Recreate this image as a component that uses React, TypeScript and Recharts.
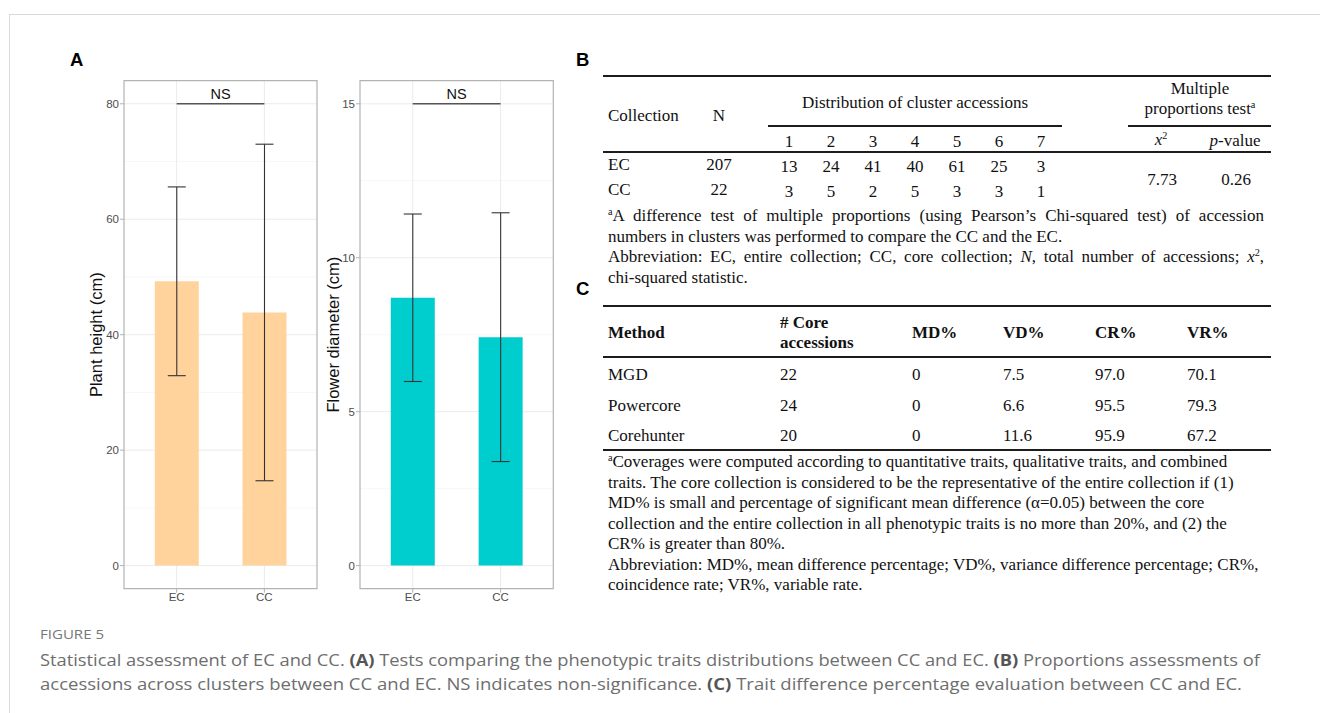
import React from 'react';
import { BarChart, Bar, XAxis, YAxis, ErrorBar, ReferenceLine, ReferenceArea, CartesianGrid } from 'recharts';

// ---- Panel A: trait means (bars) with ± SD error bars ----
const collections = ['EC', 'CC'];
const plantHeightMean = [49.25, 43.85];
const plantHeightSd = [16.35, 29.15];
const flowerDiameterMean = [8.7, 7.42];
const flowerDiameterSd = [2.72, 4.04];

const plantTicks = [0, 20, 40, 60, 80];
const plantMinorTicks = [10, 30, 50, 70];
const flowerTicks = [0, 5, 10, 15];
const flowerMinorTicks = [2.5, 7.5, 12.5];

const plantNsLevel = 80;
const flowerNsLevel = 15;
const significanceLabel = 'NS';

// ---- Panel B: cluster distribution table ----
const clusterIds = [1, 2, 3, 4, 5, 6, 7];
const ecClusterCounts = [13, 24, 41, 40, 61, 25, 3];
const ccClusterCounts = [3, 5, 2, 5, 3, 3, 1];
const collectionSizes = [207, 22];
const chiSquared = '7.73';
const pValue = '0.26';

// ---- Panel C: method comparison table ----
const methods = ['MGD', 'Powercore', 'Corehunter'];
const coreAccessions = ['22', '24', '20'];
const mdPct = ['0', '0', '0'];
const vdPct = ['7.5', '6.6', '11.6'];
const crPct = ['97.0', '95.5', '95.9'];
const vrPct = ['70.1', '79.3', '67.2'];

const SANS = '"Liberation Sans", Arial, Helvetica, sans-serif';
const SERIF = '"Liberation Serif", "Times New Roman", Times, serif';
const CAPTION = '"Open Sans", "Noto Sans", sans-serif';

const GRID = '#ebebeb';
const MINOR_GRID = '#f4f4f4';
const BORDER = '#b3b3b3';
const TICK_TEXT = '#4d4d4d';

type PanelProps = {
  left: number;
  yAxisWidth: number;
  chartWidth: number;
  title: string;
  titleX: number;
  means: number[];
  sds: number[];
  ticks: number[];
  minorTicks: number[];
  nsLevel: number;
  color: string;
};

// map values to pixels with the axis scale handed to the grid generators
function axisPixels(axis: any, values: number[], fallback: (v: number) => number) {
  const scale = axis && axis.scale;
  return values.map((v) => {
    if (typeof scale === 'function') {
      const px = scale(v);
      if (Number.isFinite(px)) return px;
    }
    if (scale && typeof scale.map === 'function') {
      const px = scale.map(v);
      if (Number.isFinite(px)) return px;
    }
    return fallback(v);
  });
}

function TraitPanel(p: PanelProps) {
  const data = collections.map((name, i) => ({ pos: i + 1, name, mean: p.means[i], sd: p.sds[i] }));
  const pad = 0.05 * p.nsLevel;
  const yDomain: [number, number] = [-pad, p.nsLevel + pad];
  const xDomain: [number, number] = [0.4, collections.length + 0.6];
  const positions = data.map((d) => d.pos);

  const yGen = (values: number[]) => (args: any) => {
    const o = args.offset;
    return axisPixels(args.yAxis, values, (v) => o.top + (o.height * (yDomain[1] - v)) / (yDomain[1] - yDomain[0]));
  };
  const xGen = (args: any) => {
    const o = args.offset;
    return axisPixels(args.xAxis, positions, (v) => o.left + (o.width * (v - xDomain[0])) / (xDomain[1] - xDomain[0]));
  };

  const renderTitle = (props: any) => {
    const vb = props.viewBox || {};
    const cx = (vb.x || 0) + p.titleX;
    const cy = (vb.y || 0) + (vb.height || 0) / 2;
    return (
      <text
        x={cx}
        y={cy}
        transform={`rotate(-90, ${cx}, ${cy})`}
        textAnchor="middle"
        dominantBaseline="central"
        fontFamily={SANS}
        fontSize={16.5}
        fill="#111"
      >
        {p.title}
      </text>
    );
  };
  return (
    <div style={{ position: 'absolute', left: p.left, top: 60 }}>
      <BarChart
        width={p.chartWidth}
        height={560}
        data={data}
        margin={{ top: 20.7, right: 10, bottom: 1.3, left: 0 }}
        barSize={44}
      >
        <CartesianGrid
          stroke={MINOR_GRID}
          strokeWidth={0.7}
          vertical={false}
          horizontalCoordinatesGenerator={yGen(p.minorTicks)}
        />
        <CartesianGrid
          stroke={GRID}
          strokeWidth={1}
          horizontalCoordinatesGenerator={yGen(p.ticks)}
          verticalCoordinatesGenerator={xGen}
        />
        <XAxis
          type="number"
          dataKey="pos"
          domain={xDomain}
          ticks={positions}
          tickFormatter={(v: number) => collections[v - 1]}
          allowDataOverflow
          interval={0}
          axisLine={false}
          tickLine={{ stroke: BORDER }}
          tickSize={4}
          tickMargin={0}
          height={30}
          tick={{ fill: TICK_TEXT, fontSize: 11.5, fontFamily: SANS }}
        />
        <YAxis
          type="number"
          domain={yDomain}
          ticks={p.ticks}
          allowDataOverflow
          interval={0}
          width={p.yAxisWidth}
          axisLine={false}
          tickLine={{ stroke: BORDER }}
          tickSize={4}
          tickMargin={1}
          tick={{ fill: TICK_TEXT, fontSize: 11.5, fontFamily: SANS }}
          label={renderTitle}
        />
        <Bar dataKey="mean" fill={p.color} isAnimationActive={false}>
          <ErrorBar dataKey="sd" width={9} stroke="#333" strokeWidth={1.1} direction="y" />
        </Bar>
        <ReferenceLine
          segment={[
            { x: 1, y: p.nsLevel },
            { x: collections.length, y: p.nsLevel },
          ]}
          stroke="#555"
          strokeWidth={1.6}
          label={{ value: significanceLabel, position: 'top', offset: 5, fill: '#111', fontSize: 14.5, fontFamily: SANS }}
        />
        <ReferenceArea
          x1={xDomain[0]}
          x2={xDomain[1]}
          y1={yDomain[0]}
          y2={yDomain[1]}
          fill="none"
          fillOpacity={0}
          stroke={BORDER}
          strokeWidth={1.2}
        />
      </BarChart>
    </div>
  );
}

type TxtProps = {
  x: number;
  y: number;
  align?: 'left' | 'center' | 'right';
  size?: number;
  bold?: boolean;
  children: React.ReactNode;
};

function Txt({ x, y, align = 'left', size = 17, bold = false, children }: TxtProps) {
  const tx = align === 'center' ? '-50%' : align === 'right' ? '-100%' : '0';
  return (
    <div
      style={{
        position: 'absolute',
        left: x,
        top: y,
        transform: `translate(${tx}, -50%)`,
        whiteSpace: 'nowrap',
        fontFamily: SERIF,
        fontSize: size,
        lineHeight: `${size}px`,
        fontWeight: bold ? 700 : 400,
        color: '#111',
      }}
    >
      {children}
    </div>
  );
}

function Rule({ x1, x2, y, w = 2 }: { x1: number; x2: number; y: number; w?: number }) {
  return <div style={{ position: 'absolute', left: x1, top: y - w / 2, width: x2 - x1, height: w, background: '#1c1c1c' }} />;
}

function NoteLine({ y, justify = false, children }: { y: number; justify?: boolean; children: React.ReactNode }) {
  return (
    <div
      style={{
        position: 'absolute',
        left: 608,
        top: y,
        width: 656,
        transform: 'translateY(-50%)',
        whiteSpace: 'nowrap',
        fontFamily: SERIF,
        fontSize: 17,
        lineHeight: '17px',
        color: '#111',
        textAlign: justify ? 'justify' : 'left',
        textAlignLast: justify ? 'justify' : 'auto',
      }}
    >
      {children}
    </div>
  );
}

const Sup = ({ children }: { children: React.ReactNode }) => (
  <sup style={{ fontSize: '0.6em', lineHeight: 0, verticalAlign: '0.55em' }}>{children}</sup>
);

const PanelLetter = ({ x, y, children }: { x: number; y: number; children: React.ReactNode }) => (
  <div
    style={{
      position: 'absolute',
      left: x,
      top: y,
      transform: 'translateY(-50%)',
      fontFamily: SANS,
      fontWeight: 700,
      fontSize: 18.5,
      lineHeight: '18.5px',
      color: '#000',
    }}
  >
    {children}
  </div>
);

const clusterX = (i: number) => 789 + 42 * i;

export default function App() {
  return (
    <div
      style={{
        position: 'absolute',
        left: 0,
        top: 0,
        width: 1320,
        height: 713,
        overflow: 'hidden',
        background: '#fff',
      }}
    >
      {/* figure frame */}
      <div style={{ position: 'absolute', left: 9, top: 14, width: 1400, height: 800, borderTop: '1px solid #dadada', borderLeft: '1px solid #dadada' }} />

      {/* Panel A */}
      <PanelLetter x={70} y={60}>A</PanelLetter>
      <TraitPanel
        left={40}
        yAxisWidth={84}
        chartWidth={287}
        title="Plant height (cm)"
        titleX={56}
        means={plantHeightMean}
        sds={plantHeightSd}
        ticks={plantTicks}
        minorTicks={plantMinorTicks}
        nsLevel={plantNsLevel}
        color="#ffd39b"
      />
      <TraitPanel
        left={280}
        yAxisWidth={80}
        chartWidth={283.3}
        title="Flower diameter (cm)"
        titleX={53}
        means={flowerDiameterMean}
        sds={flowerDiameterSd}
        ticks={flowerTicks}
        minorTicks={flowerMinorTicks}
        nsLevel={flowerNsLevel}
        color="#00cdcd"
      />

      {/* Panel B */}
      <PanelLetter x={576} y={60}>B</PanelLetter>
      <Rule x1={603} x2={1271} y={76} />
      <Txt x={608} y={115}>Collection</Txt>
      <Txt x={719} y={115} align="center">N</Txt>
      <Txt x={915} y={102} align="center">Distribution of cluster accessions</Txt>
      <Txt x={1200} y={88} align="center">Multiple</Txt>
      <Txt x={1200} y={108} align="center">
        proportions test<Sup>a</Sup>
      </Txt>
      <Rule x1={768} x2={1062} y={126} w={1.6} />
      <Rule x1={1128} x2={1271} y={126} w={1.6} />
      {clusterIds.map((c, i) => (
        <Txt key={`cid-${c}`} x={clusterX(i)} y={141} align="center">
          {c}
        </Txt>
      ))}
      <Txt x={1161} y={139} align="center">
        <i>x</i>
        <Sup>2</Sup>
      </Txt>
      <Txt x={1235} y={140} align="center">
        <i>p</i>-value
      </Txt>
      <Rule x1={603} x2={1271} y={152} />
      <Txt x={608} y={164}>{collections[0]}</Txt>
      <Txt x={719} y={164} align="center">{collectionSizes[0]}</Txt>
      {ecClusterCounts.map((v, i) => (
        <Txt key={`ec-${i}`} x={clusterX(i)} y={166} align="center">
          {v}
        </Txt>
      ))}
      <Txt x={608} y={189}>{collections[1]}</Txt>
      <Txt x={719} y={189} align="center">{collectionSizes[1]}</Txt>
      {ccClusterCounts.map((v, i) => (
        <Txt key={`cc-${i}`} x={clusterX(i)} y={191} align="center">
          {v}
        </Txt>
      ))}
      <Txt x={1162} y={179} align="center">{chiSquared}</Txt>
      <Txt x={1236} y={179} align="center">{pValue}</Txt>

      <NoteLine y={215} justify>
        <Sup>a</Sup>A difference test of multiple proportions (using Pearson’s Chi-squared test) of accession
      </NoteLine>
      <NoteLine y={236}>numbers in clusters was performed to compare the CC and the EC.</NoteLine>
      <NoteLine y={256} justify>
        Abbreviation: EC, entire collection; CC, core collection; <i>N</i>, total number of accessions; <i>x</i>
        <Sup>2</Sup>,
      </NoteLine>
      <NoteLine y={277}>chi-squared statistic.</NoteLine>

      {/* Panel C */}
      <PanelLetter x={576} y={289}>C</PanelLetter>
      <Rule x1={603} x2={1271} y={306} />
      <Txt x={608} y={332} bold>Method</Txt>
      <Txt x={780} y={322} bold># Core</Txt>
      <Txt x={780} y={342} bold>accessions</Txt>
      <Txt x={912} y={332} bold>MD%</Txt>
      <Txt x={1003} y={332} bold>VD%</Txt>
      <Txt x={1095} y={332} bold>CR%</Txt>
      <Txt x={1187} y={332} bold>VR%</Txt>
      <Rule x1={603} x2={1271} y={357} />
      {methods.map((m, i) => {
        const y = 374 + i * 30.5;
        return (
          <React.Fragment key={m}>
            <Txt x={608} y={y}>{m}</Txt>
            <Txt x={780} y={y}>{coreAccessions[i]}</Txt>
            <Txt x={912} y={y}>{mdPct[i]}</Txt>
            <Txt x={1003} y={y}>{vdPct[i]}</Txt>
            <Txt x={1095} y={y}>{crPct[i]}</Txt>
            <Txt x={1187} y={y}>{vrPct[i]}</Txt>
          </React.Fragment>
        );
      })}
      <Rule x1={603} x2={1271} y={450} />
      <NoteLine y={461}>
        <Sup>a</Sup>Coverages were computed according to quantitative traits, qualitative traits, and combined
      </NoteLine>
      <NoteLine y={482}>traits. The core collection is considered to be the representative of the entire collection if (1)</NoteLine>
      <NoteLine y={502}>MD% is small and percentage of significant mean difference (α=0.05) between the core</NoteLine>
      <NoteLine y={523}>collection and the entire collection in all phenotypic traits is no more than 20%, and (2) the</NoteLine>
      <NoteLine y={543}>CR% is greater than 80%.</NoteLine>
      <NoteLine y={564}>Abbreviation: MD%, mean difference percentage; VD%, variance difference percentage; CR%,</NoteLine>
      <NoteLine y={584}>coincidence rate; VR%, variable rate.</NoteLine>

      {/* Caption */}
      <svg style={{ position: 'absolute', left: 0, top: 610 }} width={1320} height={100}>
        <text x={40} y={29} fontFamily={CAPTION} fontSize={13} fill="#777" textLength={64} lengthAdjust="spacingAndGlyphs">
          FIGURE 5
        </text>
        <text x={40} y={56} fontFamily={CAPTION} fontSize={16.5} fill="#6e6e6e" textLength={1220} lengthAdjust="spacingAndGlyphs">
          Statistical assessment of EC and CC. <tspan fontWeight={700} fill="#555">(A)</tspan> Tests comparing the phenotypic traits
          distributions between CC and EC. <tspan fontWeight={700} fill="#555">(B)</tspan> Proportions assessments of
        </text>
        <text x={40} y={80} fontFamily={CAPTION} fontSize={16.5} fill="#6e6e6e" textLength={1202} lengthAdjust="spacingAndGlyphs">
          accessions across clusters between CC and EC. NS indicates non-significance. <tspan fontWeight={700} fill="#555">(C)</tspan>{' '}
          Trait difference percentage evaluation between CC and EC.
        </text>
      </svg>
    </div>
  );
}
